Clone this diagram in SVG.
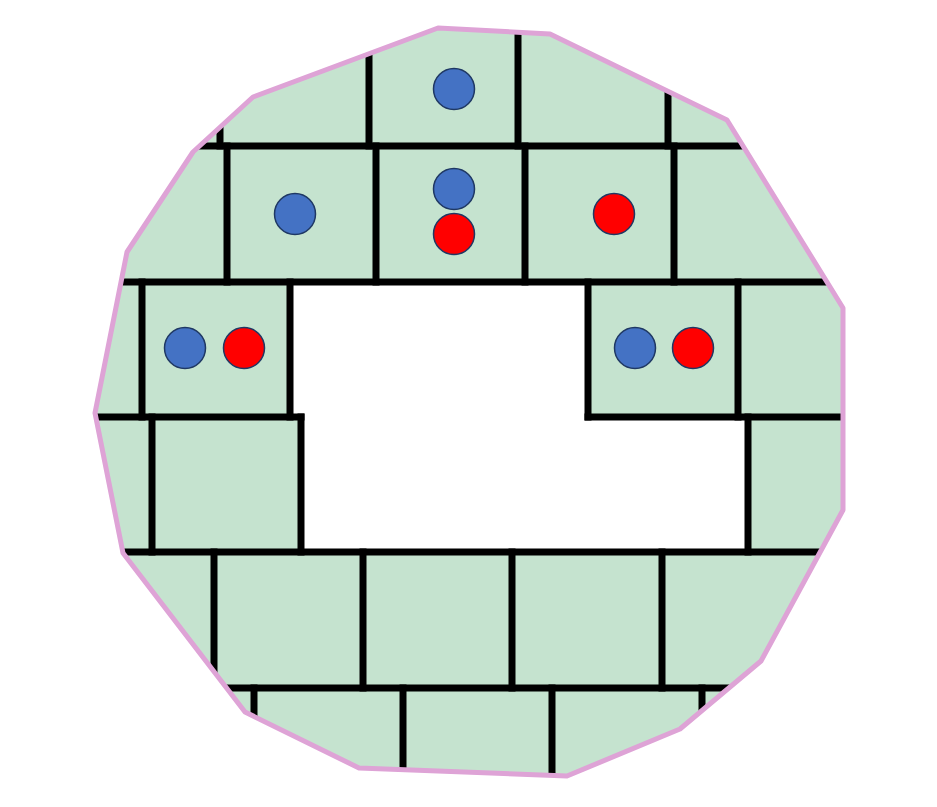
<svg xmlns="http://www.w3.org/2000/svg" width="937" height="807" viewBox="0 0 937 807">
<defs>
<style>
.wall{stroke:#000;stroke-width:7;fill:none;stroke-linecap:square}
.blue{fill:#4472c4;stroke:#1f3864;stroke-width:1.5}
.red{fill:#ff0000;stroke:#1f3864;stroke-width:1.5}
</style>
<clipPath id="clip">
<polygon points="438,28 550,34 727,120 843,308 843,510 761,661 680,729 567,776 359,768 245,712 123,553 95,413 127,252 193,152 253,97"/>
</clipPath>
</defs>
<rect width="937" height="807" fill="#fff"/>
<g id="area">
<polygon points="438,28 550,34 727,120 843,308 843,510 761,661 680,729 567,776 359,768 245,712 123,553 95,413 127,252 193,152 253,97" fill="#c5e3cf"/>
<polygon points="290,282 588,282 588,417 748,417 748,552 301,552 301,417 290,417" fill="#fff"/>
</g>
<g id="walls" clip-path="url(#clip)">
<path class="wall" d="M80,146H900 M80,282H900 M80,417H301 M588,417H900 M80,552H900 M80,688H900"/>
<path class="wall" d="M220,20V146 M369,20V146 M518,20V146 M668,20V146"/>
<path class="wall" d="M227,146V282 M376,146V282 M525,146V282 M674,146V282"/>
<path class="wall" d="M142,282V417 M290,282V417 M588,282V417 M738,282V417"/>
<path class="wall" d="M152,417V552 M301,417V552 M748,417V552"/>
<path class="wall" d="M214,552V688 M363,552V688 M512,552V688 M662,552V688"/>
<path class="wall" d="M254,688V800 M403,688V800 M552,688V800 M702,688V800"/>
</g>
<g id="outline">
<polygon points="438,28 550,34 727,120 843,308 843,510 761,661 680,729 567,776 359,768 245,712 123,553 95,413 127,252 193,152 253,97" fill="none" stroke="#dea3d6" stroke-width="5" stroke-linejoin="round"/>
</g>
<g id="tokens">
<circle class="blue" cx="454" cy="89" r="20.5"/>
<circle class="blue" cx="295" cy="214" r="20.5"/>
<circle class="blue" cx="454" cy="189" r="20.5"/>
<circle class="red" cx="454" cy="234" r="20.5"/>
<circle class="red" cx="614" cy="214" r="20.5"/>
<circle class="blue" cx="185" cy="348" r="20.5"/>
<circle class="red" cx="244" cy="348" r="20.5"/>
<circle class="blue" cx="635" cy="348" r="20.5"/>
<circle class="red" cx="693" cy="348" r="20.5"/>
</g>
</svg>
